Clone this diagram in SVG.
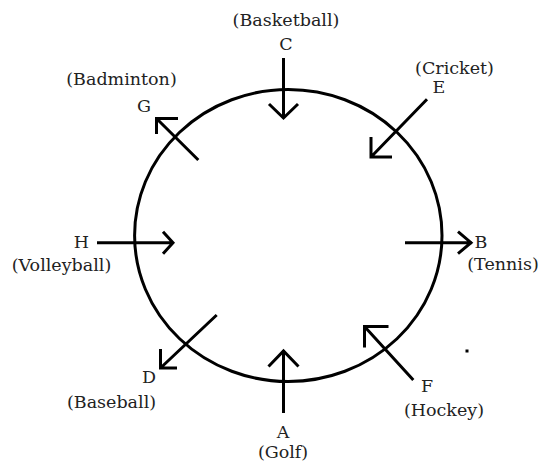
<svg xmlns="http://www.w3.org/2000/svg" width="545" height="470" viewBox="0 0 545 470">
<style>
.t{font-family:"DejaVu Serif","Liberation Serif",serif;font-size:17.5px;fill:#222;text-anchor:middle}
.s{fill:none;stroke:#000;stroke-width:3;stroke-linecap:butt;stroke-linejoin:miter}
</style>
<rect width="545" height="470" fill="#fff"/>
<g id="circle"><ellipse class="s" cx="288.3" cy="235.5" rx="153.7" ry="146"/></g>
<g id="connectors">
<path class="s" d="M283.5 58V118M269 104L283.5 118L298 104"/>
<path class="s" d="M283.5 413V350M268.5 366.5L283.5 351L298.5 366.5"/>
<path class="s" d="M97 242.7H173M163 231.7L173 242.7L163 253.7"/>
<path class="s" d="M405 242.7H472M458 231.7L471 242.7L458 253.7"/>
<path class="s" d="M427 99.3L371 157M371 137V157H392"/>
<path class="s" d="M198.3 160L156.5 118.5M156.5 134V118.5H178"/>
<path class="s" d="M216.7 315L160.5 368M160.5 349V368H177"/>
<path class="s" d="M413.3 380L364.5 326.5M364.5 347.5V326.5H388.5"/>
</g>
<g id="node-C"><text class="t" x="286" y="26">(Basketball)</text><text class="t" x="286" y="50">C</text></g>
<g id="node-E"><text class="t" x="454.5" y="74">(Cricket)</text><text class="t" x="439" y="93">E</text></g>
<g id="node-G"><text class="t" x="121.5" y="85">(Badminton)</text><text class="t" x="144" y="112">G</text></g>
<g id="node-H"><text class="t" x="81.5" y="248">H</text><text class="t" x="61.5" y="271">(Volleyball)</text></g>
<g id="node-B"><text class="t" x="481" y="248">B</text><text class="t" x="503" y="270">(Tennis)</text></g>
<g id="node-D"><text class="t" x="149" y="383">D</text><text class="t" x="111.5" y="408">(Baseball)</text></g>
<g id="node-A"><text class="t" x="283" y="438">A</text><text class="t" x="283" y="458">(Golf)</text></g>
<g id="node-F"><text class="t" x="427" y="392">F</text><text class="t" x="444" y="416">(Hockey)</text></g>
<rect x="465.5" y="349.5" width="3" height="3" fill="#000"/>
</svg>
